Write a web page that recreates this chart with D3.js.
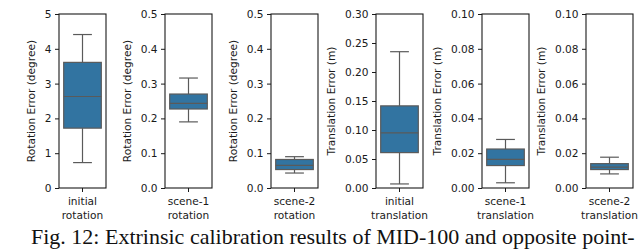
<!DOCTYPE html>
<html>
<head>
<meta charset="utf-8">
<script src="https://cdn.jsdelivr.net/npm/d3@7"></script>
<style>
  body { margin: 0; background: #fff; }
  svg { display: block; }
</style>
</head>
<body>
<div id="chart"></div>
<script>
// one entry per small panel
var categories = [["initial", "rotation"], ["scene-1", "rotation"], ["scene-2", "rotation"],
                  ["initial", "translation"], ["scene-1", "translation"], ["scene-2", "translation"]];
var yLabels = ["Rotation Error (degree)", "Rotation Error (degree)", "Rotation Error (degree)",
               "Translation Error (m)", "Translation Error (m)", "Translation Error (m)"];
var yMax = [5, 0.5, 0.5, 0.30, 0.10, 0.10];
var yTicks = [[0,1,2,3,4,5], [0,0.1,0.2,0.3,0.4,0.5], [0,0.1,0.2,0.3,0.4,0.5],
              [0,0.05,0.10,0.15,0.20,0.25,0.30], [0,0.02,0.04,0.06,0.08,0.10], [0,0.02,0.04,0.06,0.08,0.10]];
var tickFormats = ["d", ".1f", ".1f", ".2f", ".2f", ".2f"];
// box stats: whisker low, q1, median, q3, whisker high
var whiskerLow = [0.73, 0.19, 0.043, 0.007, 0.003, 0.0081];
var q1 = [1.72, 0.227, 0.053, 0.061, 0.0129, 0.0106];
var median = [2.63, 0.243, 0.065, 0.095, 0.0164, 0.012];
var q3 = [3.61, 0.27, 0.082, 0.1416, 0.0224, 0.014];
var whiskerHigh = [4.41, 0.316, 0.09, 0.235, 0.0279, 0.0177];

var caption = "Fig. 12: Extrinsic calibration results of MID-100 and opposite point-";

var W = 640, H = 249;
var panelLeft = [59, 165, 271, 376, 482, 586],
  panelW = 47,
  plotTop = 14, plotBottom = 188;

var boxColor = "#3274a1", lineColor = "#5a5a5a", axisColor = "#1a1a1a";
var fs = 10.6;

var svg = d3.select("#chart").append("svg")
  .attr("width", W).attr("height", H);

categories.forEach(function(cat, i) {
  var g = svg.append("g").attr("transform", "translate(" + panelLeft[i] + ",0)");

  var x = d3.scaleBand().domain([cat.join(" ")]).range([0, panelW]).paddingInner(0).paddingOuter(0.125);
  var y = d3.scaleLinear().domain([0, yMax[i]]).range([plotBottom, plotTop]);

  var cx = x(cat.join(" ")) + x.bandwidth() / 2,
    bw = x.bandwidth();

  // whiskers
  g.append("line").attr("x1", cx).attr("x2", cx)
    .attr("y1", y(whiskerHigh[i])).attr("y2", y(q3[i]))
    .attr("stroke", lineColor).attr("stroke-width", 1.2);
  g.append("line").attr("x1", cx).attr("x2", cx)
    .attr("y1", y(q1[i])).attr("y2", y(whiskerLow[i]))
    .attr("stroke", lineColor).attr("stroke-width", 1.2);
  [whiskerHigh[i], whiskerLow[i]].forEach(function(v) {
    g.append("line").attr("x1", cx - bw / 4).attr("x2", cx + bw / 4)
      .attr("y1", y(v)).attr("y2", y(v))
      .attr("stroke", lineColor).attr("stroke-width", 1.2);
  });

  // box
  g.append("rect")
    .attr("x", cx - bw / 2).attr("width", bw)
    .attr("y", y(q3[i])).attr("height", y(q1[i]) - y(q3[i]))
    .attr("fill", boxColor).attr("stroke", lineColor).attr("stroke-width", 1.2);
  g.append("line").attr("x1", cx - bw / 2).attr("x2", cx + bw / 2)
    .attr("y1", y(median[i])).attr("y2", y(median[i]))
    .attr("stroke", lineColor).attr("stroke-width", 1.2);

  // frame
  g.append("rect").attr("x", 0).attr("y", plotTop).attr("width", panelW).attr("height", plotBottom - plotTop)
    .attr("fill", "none").attr("stroke", axisColor).attr("stroke-width", 1.1);

  // y axis
  var yAxis = g.append("g")
    .call(d3.axisLeft(y).tickValues(yTicks[i]).tickFormat(d3.format(tickFormats[i])).tickSize(4).tickPadding(3.5));
  yAxis.select(".domain").remove();
  yAxis.selectAll("line").attr("stroke", axisColor);
  yAxis.selectAll("text").attr("font-family", "DejaVu Sans").attr("font-size", fs).attr("fill", axisColor);

  var minX = 0;
  yAxis.selectAll("text").each(function() {
    var b = this.getBBox();
    minX = Math.min(minX, b.x - 7.5);
  });

  // x axis
  var xAxis = g.append("g").attr("transform", "translate(0," + plotBottom + ")")
    .call(d3.axisBottom(x).tickSize(4).tickFormat(""));
  xAxis.select(".domain").remove();
  xAxis.selectAll("line").attr("stroke", axisColor);
  cat.forEach(function(t, k) {
    g.append("text").attr("x", cx).attr("y", 205 + k * 13.5)
      .attr("text-anchor", "middle")
      .attr("font-family", "DejaVu Sans").attr("font-size", fs).attr("fill", axisColor)
      .text(t);
  });

  // y label
  g.append("text")
    .attr("transform", "translate(" + (minX - 2) + "," + ((plotTop + plotBottom) / 2) + ") rotate(-90)")
    .attr("text-anchor", "middle")
    .attr("font-family", "DejaVu Sans").attr("font-size", fs).attr("fill", axisColor)
    .text(yLabels[i]);
});

svg.append("text")
  .attr("x", 31).attr("y", 244)
  .attr("font-family", "'Liberation Serif', 'DejaVu Serif', serif").attr("font-size", 22).attr("fill", "#111")
  .text(caption);
</script>
</body>
</html>
